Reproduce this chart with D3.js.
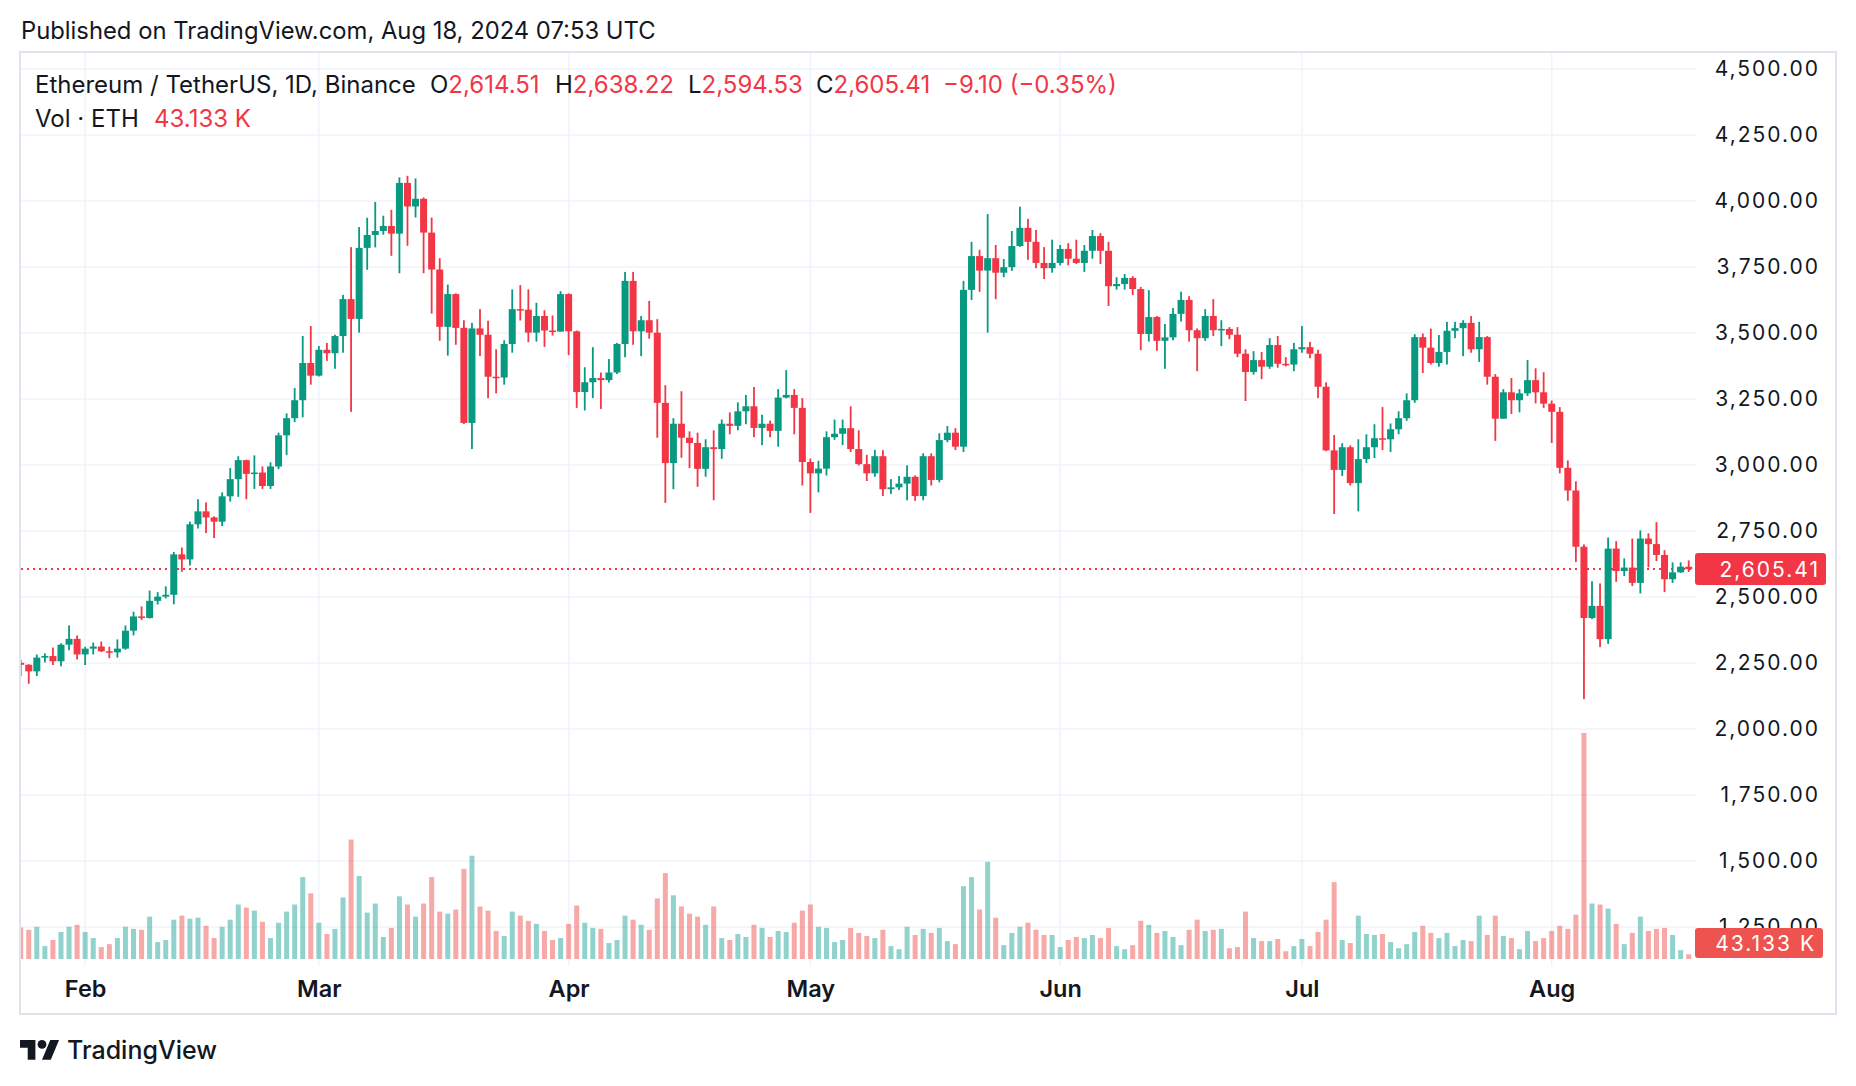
<!DOCTYPE html>
<html>
<head>
<meta charset="utf-8">
<title>ETHUSDT 1D</title>
<style>
  body { margin: 0; background: #ffffff; }
  svg { display: block; }
  text { font-family: Inter, "Noto Sans", sans-serif; fill: #131722; }
  .grid line { stroke: #f0f3fa; stroke-width: 1.5; }
  .axis path, .axis line { display: none; }
  .axis.price text { font-size: 21px; letter-spacing: 2px; }
  .axis.time text { font-size: 23.5px; font-weight: 600; }
  .red { fill: #f23645; }
</style>
</head>
<body>
<svg id="chart"></svg>
<script src="https://cdn.jsdelivr.net/npm/d3@7"></script>
<script>
// ETH/USDT daily candles, Jan 24 - Aug 18 2024
var firstDay = new Date(Date.UTC(2024, 0, 24));
var lastDay = new Date(Date.UTC(2024, 7, 18));

var opens = [2250,2243,2218,2270,2276,2256,2319,2341,2282,2304,2312,2294,2290,2304,2372,2426,2420,2485,2501,2508,
  2661,2642,2775,2824,2801,2785,2881,2946,3018,2966,2971,2920,2994,3112,3177,3245,3386,3338,3436,3423,
  3488,3628,3553,3822,3871,3886,3905,3876,4068,3979,4008,3880,3740,3523,3647,3519,3159,3517,3493,3334,
  3331,3458,3590,3588,3501,3564,3509,3505,3647,3506,3276,3313,3329,3321,3350,3458,3697,3506,3548,3501,
  3235,3007,3156,3103,3083,2985,3067,3060,3156,3148,3203,3222,3140,3156,3129,3255,3265,3216,3011,2968,
  2986,3105,3118,3139,3060,3003,2968,3033,2908,2915,2929,2955,2882,3033,2943,3094,3122,3069,3663,3791,
  3736,3783,3728,3749,3829,3898,3845,3765,3745,3765,3818,3781,3765,3811,3867,3811,3677,3685,3708,3666,
  3496,3560,3470,3483,3572,3625,3510,3480,3564,3510,3515,3493,3421,3352,3397,3372,3454,3383,3380,3438,
  3446,3421,3296,3055,2981,3067,2931,3022,3067,3101,3097,3135,3177,3245,3484,3444,3386,3428,3508,3518,
  3538,3438,3484,3334,3175,3275,3245,3271,3321,3275,3232,3201,2989,2903,2690,2420,2466,2340,2683,2598,
  2611,2553,2721,2700,2659,2567,2593,2614.51];

var highs = [2262,2245,2282,2286,2308,2324,2392,2354,2311,2327,2331,2311,2339,2392,2444,2464,2524,2518,2540,2670,
  2687,2785,2870,2858,2805,2896,2988,3033,3020,3036,2994,3010,3122,3195,3291,3488,3526,3450,3462,3493,
  3644,3825,3901,3936,3996,3944,3966,4089,4095,4085,4013,3937,3783,3683,3650,3548,3538,3590,3546,3438,
  3472,3665,3681,3665,3614,3586,3566,3658,3650,3509,3370,3446,3350,3401,3462,3731,3731,3564,3621,3552,
  3302,3177,3279,3127,3122,3097,3131,3172,3199,3237,3265,3295,3190,3168,3287,3359,3287,3253,3024,3016,
  3127,3172,3172,3222,3131,3038,3057,3056,2946,2958,2998,2960,3044,3044,3120,3147,3139,3697,3845,3815,
  3950,3833,3780,3886,3978,3932,3890,3825,3853,3833,3840,3853,3833,3890,3878,3845,3711,3723,3715,3674,
  3662,3564,3534,3594,3656,3639,3517,3590,3628,3548,3522,3522,3438,3431,3428,3480,3488,3408,3462,3526,
  3466,3436,3313,3113,3082,3074,3097,3116,3154,3219,3157,3203,3271,3495,3498,3516,3492,3542,3542,3548,
  3564,3542,3488,3344,3287,3329,3287,3397,3366,3351,3244,3219,3017,2938,2699,2559,2551,2725,2711,2646,
  2721,2752,2741,2783,2677,2631,2631,2638.22];

var lows = [2200,2171,2200,2252,2242,2237,2298,2263,2242,2282,2291,2268,2270,2300,2354,2412,2418,2471,2494,2472,
  2595,2619,2759,2742,2723,2768,2861,2879,2870,2909,2909,2909,2984,3037,3162,3180,3304,3335,3394,3364,
  3425,3201,3501,3739,3824,3872,3792,3726,3830,3937,3726,3573,3470,3414,3455,3155,3060,3412,3253,3271,
  3304,3425,3547,3465,3467,3447,3490,3505,3416,3216,3206,3253,3212,3312,3344,3408,3455,3412,3478,3103,
  2856,2908,3027,2988,2917,2955,2866,3023,3116,3131,3154,3105,3075,3105,3069,3252,3116,2922,2818,2896,
  2960,3095,3075,3049,2998,2939,2955,2882,2890,2905,2866,2864,2866,2922,2934,3086,3056,3049,3625,3656,
  3501,3628,3711,3735,3826,3777,3745,3704,3728,3756,3756,3761,3731,3781,3761,3602,3664,3664,3643,3435,
  3467,3432,3364,3472,3543,3467,3355,3470,3488,3450,3476,3408,3242,3342,3325,3364,3368,3373,3355,3425,
  3404,3253,3052,2814,2958,2922,2824,3007,3026,3056,3049,3116,3167,3235,3348,3380,3372,3380,3480,3412,
  3425,3390,3304,3091,3175,3193,3199,3261,3233,3216,3083,2968,2864,2632,2113,2416,2310,2322,2557,2579,
  2541,2513,2612,2636,2518,2553,2591,2594.53];

var closes = [2243,2218,2270,2276,2256,2319,2341,2282,2304,2312,2294,2290,2304,2372,2426,2420,2485,2501,2508,2661,
  2642,2775,2824,2801,2785,2881,2946,3018,2966,2971,2920,2994,3112,3177,3245,3386,3338,3436,3423,3488,
  3628,3553,3822,3871,3886,3905,3876,4068,3979,4008,3880,3740,3523,3647,3519,3159,3517,3493,3334,3331,
  3458,3590,3588,3501,3564,3509,3505,3647,3506,3276,3313,3329,3321,3350,3458,3697,3506,3548,3501,3235,
  3007,3156,3103,3083,2985,3067,3060,3156,3148,3203,3222,3140,3156,3129,3255,3265,3216,3011,2968,2986,
  3105,3118,3139,3060,3003,2968,3033,2908,2915,2929,2955,2882,3033,2943,3094,3122,3069,3663,3791,3736,
  3783,3728,3749,3829,3898,3845,3765,3745,3765,3818,3781,3765,3811,3867,3811,3677,3685,3708,3666,3496,
  3560,3470,3483,3572,3625,3510,3480,3564,3510,3515,3493,3421,3352,3397,3372,3454,3383,3380,3438,3446,
  3421,3296,3055,2981,3067,2931,3022,3067,3101,3097,3135,3177,3245,3484,3444,3386,3428,3508,3518,3538,
  3438,3484,3334,3175,3275,3245,3271,3321,3275,3232,3201,2989,2903,2690,2420,2466,2340,2683,2598,2611,
  2553,2721,2700,2659,2567,2593,2614.51,2605.41];

// volume in thousand ETH
var volumes = [288,267,295,118,174,248,295,313,248,192,109,136,192,295,276,267,388,155,174,360,
  397,369,378,304,192,295,360,499,471,443,341,192,332,434,499,750,601,332,229,276,
  564,1094,760,425,508,202,285,574,499,388,508,750,434,415,453,825,946,481,443,257,
  211,434,397,350,322,257,174,192,322,490,332,285,276,146,174,397,360,313,267,555,
  787,583,481,415,388,313,481,192,174,229,202,313,285,202,257,248,332,443,499,295,
  285,155,174,285,239,211,192,267,118,90,295,220,276,239,285,164,136,667,750,453,
  890,378,127,239,295,332,267,220,220,109,174,202,192,220,192,285,118,90,127,350,
  313,239,257,202,127,267,360,257,267,276,99,109,434,192,164,164,183,71,118,183,
  118,248,360,704,174,146,397,229,220,229,155,99,136,248,304,239,192,239,118,174,
  164,397,220,397,211,192,90,257,164,192,257,304,276,406,2070,508,499,462,322,136,
  239,388,257,276,285,220,81,43.133];

var priceTicks = [1250, 1500, 1750, 2000, 2250, 2500, 2750, 3000, 3250, 3500, 3750, 4000, 4250, 4500];
var lastPrice = 2605.41;
var lastVolumeLabel = "43.133 K";

var legendTitle = "Ethereum / TetherUS, 1D, Binance";
var legendValues = [["O", "2,614.51"], ["H", "2,638.22"], ["L", "2,594.53"], ["C", "2,605.41"]];
var legendChange = "\u22129.10 (\u22120.35%)";

// Layout
var W = 1856, H = 1086;
var pane = { left: 21, right: 1696, top: 53, bottom: 966 };
var upColor = "#089981", downColor = "#f23645";

var svg = d3.select("#chart")
    .attr("width", W)
    .attr("height", H);

var days = d3.utcDay.range(firstDay, d3.utcDay.offset(lastDay, 1));
var candles = days.map(function (d, i) {
    return { date: d, o: opens[i], h: highs[i], l: lows[i], c: closes[i], v: volumes[i] };
});

// Scales
var x = d3.scaleUtc()
    .domain([firstDay, lastDay])
    .range([20.7, 1688.7]);

var y = d3.scaleLinear()
    .domain([1250, 4500])
    .range([926.9, 68.9]);

var yVol = d3.scaleLinear()
    .domain([0, 2070])
    .range([959, 733]);

// Frame
svg.append("rect")
    .attr("x", 20).attr("y", 52)
    .attr("width", 1816).attr("height", 962)
    .attr("fill", "none")
    .attr("stroke", "#e0e3eb")
    .attr("stroke-width", 2);

// Grid
var monthStarts = d3.utcMonth.range(d3.utcMonth.ceil(firstDay), lastDay);

var grid = svg.append("g").attr("class", "grid");
grid.selectAll(".h")
    .data(priceTicks)
    .enter().append("line")
    .attr("x1", pane.left).attr("x2", pane.right)
    .attr("y1", function (d) { return y(d); })
    .attr("y2", function (d) { return y(d); });
grid.selectAll(".v")
    .data(monthStarts)
    .enter().append("line")
    .attr("x1", function (d) { return x(d); })
    .attr("x2", function (d) { return x(d); })
    .attr("y1", pane.top).attr("y2", pane.bottom);

// Clip for plotted marks
svg.append("clipPath").attr("id", "plotClip")
    .append("rect")
    .attr("x", pane.left).attr("y", pane.top)
    .attr("width", pane.right - pane.left)
    .attr("height", pane.bottom - pane.top);

var plot = svg.append("g").attr("clip-path", "url(#plotClip)");

// Volume bars
var volW = 5;
plot.append("g").selectAll("rect")
    .data(candles)
    .enter().append("rect")
    .attr("x", function (d) { return x(d.date) - volW / 2; })
    .attr("y", function (d) { return yVol(d.v); })
    .attr("width", volW)
    .attr("height", function (d) { return yVol(0) - yVol(d.v); })
    .attr("fill", function (d) { return d.c >= d.o ? "#26a69a" : "#ef5350"; })
    .attr("fill-opacity", 0.5);

// Last price line
plot.append("line")
    .attr("x1", pane.left).attr("x2", pane.right)
    .attr("y1", y(lastPrice)).attr("y2", y(lastPrice))
    .attr("stroke", downColor)
    .attr("stroke-width", 2)
    .attr("stroke-dasharray", "2,4");

// Candles
var bodyW = 7;
var candle = plot.append("g").selectAll("g")
    .data(candles)
    .enter().append("g")
    .attr("fill", function (d) { return d.c >= d.o ? upColor : downColor; });

candle.append("rect")
    .attr("x", function (d) { return x(d.date) - 0.9; })
    .attr("y", function (d) { return y(d.h); })
    .attr("width", 1.8)
    .attr("height", function (d) { return y(d.l) - y(d.h); });

candle.append("rect")
    .attr("x", function (d) { return x(d.date) - bodyW / 2; })
    .attr("y", function (d) { return y(Math.max(d.o, d.c)); })
    .attr("width", bodyW)
    .attr("height", function (d) { return Math.max(1.5, Math.abs(y(d.o) - y(d.c))); });

// Price axis
var priceAxis = d3.axisRight(y)
    .tickValues(priceTicks)
    .tickFormat(d3.format(",.2f"))
    .tickSize(0);

svg.append("g")
    .attr("class", "axis price")
    .attr("transform", "translate(1820,0)")
    .call(priceAxis)
    .selectAll("text")
    .attr("x", 0)
    .attr("text-anchor", "end")
    .attr("fill", "#131722");

// Last price label
svg.append("rect")
    .attr("x", 1695).attr("y", y(lastPrice) - 16)
    .attr("width", 131).attr("height", 32)
    .attr("rx", 3)
    .attr("fill", downColor);
svg.append("text")
    .attr("x", 1820).attr("y", y(lastPrice))
    .attr("dy", "0.36em")
    .attr("text-anchor", "end")
    .style("font-size", "21px")
    .style("letter-spacing", "2px")
    .style("fill", "#ffffff")
    .text(d3.format(",.2f")(lastPrice));

// Last volume label
svg.append("rect")
    .attr("x", 1695).attr("y", 928)
    .attr("width", 128).attr("height", 30)
    .attr("rx", 3)
    .attr("fill", "#ef5350");
svg.append("text")
    .attr("x", 1816).attr("y", 943)
    .attr("dy", "0.36em")
    .attr("text-anchor", "end")
    .style("font-size", "21px")
    .style("letter-spacing", "2px")
    .style("fill", "#ffffff")
    .text(lastVolumeLabel);

// Time axis
var timeAxis = d3.axisBottom(x)
    .tickValues(monthStarts)
    .tickFormat(d3.utcFormat("%b"))
    .tickSize(0);

svg.append("g")
    .attr("class", "axis time")
    .attr("transform", "translate(0,977)")
    .call(timeAxis)
    .selectAll("text")
    .attr("fill", "#131722");

// Header
svg.append("text")
    .attr("x", 21).attr("y", 39)
    .style("font-size", "23.8px")
    .text("Published on TradingView.com, Aug 18, 2024 07:53 UTC");

var legend = svg.append("g").style("font-size", "24px");
legend.append("text")
    .attr("x", 35).attr("y", 93)
    .text(legendTitle);

// each O/H/L/C letter and its value share one text element
var legendX = [430, 555, 688, 816];
legendValues.forEach(function (pair, i) {
    var t = legend.append("text").attr("x", legendX[i]).attr("y", 93);
    t.append("tspan").text(pair[0]);
    t.append("tspan").attr("class", "red").text(pair[1]);
});
legend.append("text")
    .attr("x", 943).attr("y", 93)
    .attr("class", "red")
    .text(legendChange);

legend.append("text")
    .attr("x", 35).attr("y", 127)
    .text("Vol \u00b7 ETH");
legend.append("text")
    .attr("x", 154).attr("y", 127)
    .attr("class", "red")
    .text(lastVolumeLabel);

// TradingView logo
var logo = svg.append("g")
    .attr("transform", "translate(20,1035.6) scale(1.1)")
    .attr("fill", "#131722");
logo.append("path").attr("d", "M14 22H7V11H0V4h14v18zM28 22h-8l7.5-18h8L28 22z");
logo.append("circle").attr("cx", 20).attr("cy", 8).attr("r", 4);

svg.append("text")
    .attr("x", 67).attr("y", 1059)
    .style("font-size", "25px")
    .style("font-weight", 500)
    .text("TradingView");
</script>
</body>
</html>
